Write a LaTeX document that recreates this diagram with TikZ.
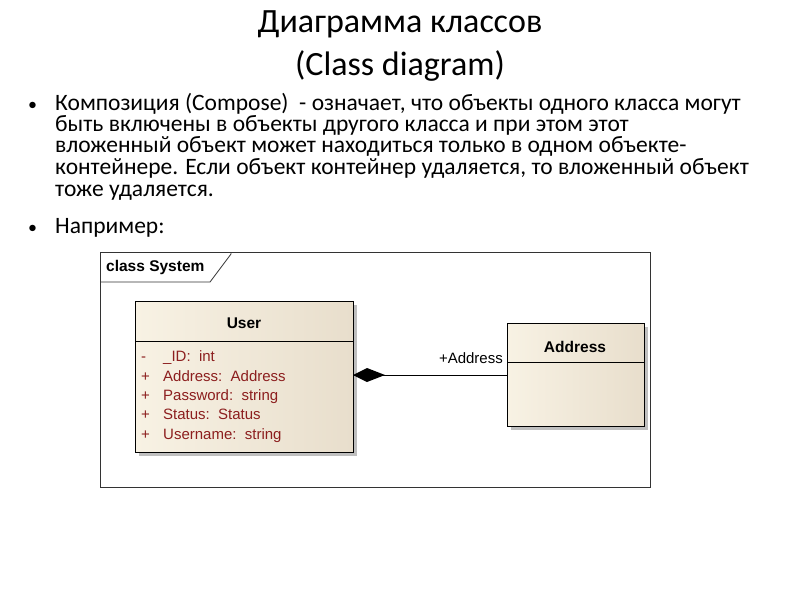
\documentclass[tikz,border=0pt]{standalone}
\usepackage{fontspec}
\setmainfont{Carlito}
\newfontfamily\arialf{Liberation Sans}
\usetikzlibrary{shapes.geometric}
\definecolor{attr}{RGB}{140,30,30}
\definecolor{beigeL}{RGB}{248,242,228}
\definecolor{beigeR}{RGB}{232,222,204}
\tikzset{
 body/.style={anchor=base west,font=\fontsize{23.5}{26}\selectfont,inner sep=0},
 bul/.style={anchor=base west,font=\fontsize{18}{20}\selectfont,inner sep=0},
 cls/.style={draw=black,line width=1pt,left color=beigeL,right color=beigeR},
 shadowbox/.style={fill=black!25,draw=none},
 attrt/.style={anchor=base west,font=\arialf\fontsize{15}{17}\selectfont,text=attr,inner sep=0},
 lab/.style={font=\arialf\bfseries\fontsize{15.5}{17}\selectfont,inner sep=0}
}
\begin{document}
\begin{tikzpicture}[x=1pt,y=-1pt]
\useasboundingbox (0,0) rectangle (800,600);
\node[font=\fontsize{34}{43}\selectfont,align=center] (title) at (400,46) {Диаграмма классов\\(Class diagram)};
\node[bul] (b1) at (28,110) {•};
\node[body] (l1) at (55,110) {Композиция (Compose)\ \ - означает, что объекты одного класса могут};
\node[body] (l2) at (55,131) {быть включены в объекты другого класса и при этом этот};
\node[body] (l3) at (55,152) {вложенный объект может находиться только в одном объекте-};
\node[body] (l4) at (55,174) {контейнере. Если объект контейнер удаляется, то вложенный объект};
\node[body] (l5) at (55,196) {тоже удаляется.};
\node[bul] (b2) at (28,233) {•};
\node[body] (l6) at (55,233) {Например:};
% frame
\draw[black!80,line width=0.8pt] (100,252) rectangle (650,487);
\draw[black!80,line width=0.8pt] (100,282) -- (210,282) -- (231,254) -- (231,252);
\node[lab,anchor=west] (frame) at (106,267) {class System};
% User
\fill[shadowbox] (139,305) rectangle (357,456);
\draw[cls] (135,301) rectangle (353,452);
\draw[line width=1pt] (135,341) -- (353,341);
\node[lab] (user) at (244,323) {User};
\node[attrt] (a0) at (141,361) {-};
\node[attrt] (a0n) at (163,361) {\_ID:\ \ int};
\node[attrt] (a1) at (141,381) {+};
\node[attrt] (a1n) at (163,381) {Address:\ \ Address};
\node[attrt] (a2) at (141,400) {+};
\node[attrt] (a2n) at (163,400) {Password:\ \ string};
\node[attrt] (a3) at (141,419) {+};
\node[attrt] (a3n) at (163,419) {Status:\ \ Status};
\node[attrt] (a4) at (141,439) {+};
\node[attrt] (a4n) at (163,439) {Username:\ \ string};
% Address
\fill[shadowbox] (511,327) rectangle (648,430);
\draw[cls] (507,323) rectangle (644,426);
\draw[line width=1pt] (507,362) -- (644,362);
\node[lab] (addr) at (575,347) {Address};
\coordinate (ua) at (353,375);
\coordinate (aa) at (507,375);
\draw[line width=1pt] (ua) -- (aa);
\fill (ua) -- (367,368) -- (385,375) -- (367,382) -- cycle;
\node[font=\arialf\fontsize{15}{17}\selectfont,anchor=east,inner sep=0] (rl) at (503,358) {+Address};
\end{tikzpicture}
\end{document}
